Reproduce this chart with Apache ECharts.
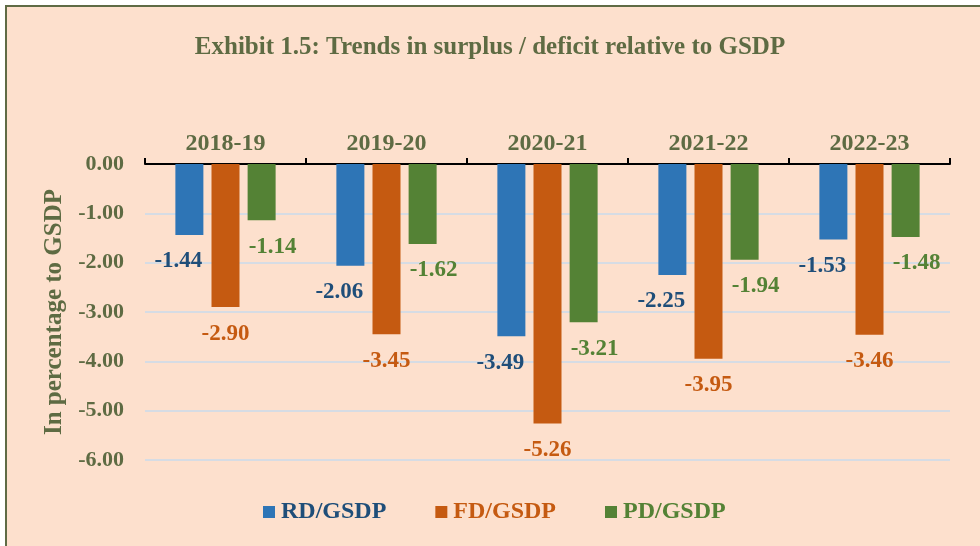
<!DOCTYPE html>
<html>
<head>
<meta charset="utf-8">
<script src="https://cdn.jsdelivr.net/npm/echarts@6/dist/echarts.min.js"></script>
<style>
html, body { margin: 0; padding: 0; background: #fff; overflow: hidden; }
#frame { position: absolute; left: 5px; top: 5px; width: 1000px; height: 600px;
  background: #FDE0CD; border-top: 2px solid #5F6B45; border-left: 2px solid #5F6B45; }
#main { position: absolute; left: 0; top: 0; width: 980px; height: 546px; }
</style>
</head>
<body>
<div id="frame"></div>
<div id="main"></div>
<script>
var years = ['2018-19', '2019-20', '2020-21', '2021-22', '2022-23'];
var rdGsdp = [-1.44, -2.06, -3.49, -2.25, -1.53];
var fdGsdp = [-2.90, -3.45, -5.26, -3.95, -3.46];
var pdGsdp = [-1.14, -1.62, -3.21, -1.94, -1.48];

var serif = '"Liberation Serif", "Times New Roman", serif';
var olive = '#5E6B43';

function barSeries(name, data, color, textColor, dx) {
  return {
    name: name,
    type: 'bar',
    data: data,
    barWidth: 28,
    barGap: '29%',
    itemStyle: { color: color },
    label: {
      show: true,
      position: 'bottom',
      distance: 15,
      offset: [dx, 0],
      color: textColor,
      fontFamily: serif,
      fontWeight: 'bold',
      fontSize: 23,
      formatter: function (p) { return p.value.toFixed(2); }
    }
  };
}

var myChart = echarts.init(document.getElementById('main'));
var option = {
  backgroundColor: 'transparent',
  animation: false,
  title: {
    text: 'Exhibit 1.5: Trends in surplus / deficit relative to GSDP',
    left: 'center',
    top: 30,
    textStyle: { color: olive, fontFamily: serif, fontWeight: 'bold', fontSize: 25 }
  },
  legend: {
    bottom: 17,
    left: 258,
    itemWidth: 12,
    itemHeight: 12,
    itemGap: 49,
    icon: 'rect',
    textStyle: { fontFamily: serif, fontWeight: 'bold', fontSize: 24, padding: [0, 0, 0, 1] },
    data: [
      { name: 'RD/GSDP', textStyle: { color: '#1F4E79' } },
      { name: 'FD/GSDP', textStyle: { color: '#C55A11' } },
      { name: 'PD/GSDP', textStyle: { color: '#548235' } }
    ]
  },
  grid: { left: 145, right: 30, top: 164, bottom: 86 },
  xAxis: {
    type: 'category',
    position: 'top',
    data: years,
    axisLine: { lineStyle: { color: '#000', width: 2 } },
    axisTick: { show: true, length: 6, lineStyle: { color: '#000', width: 2 } },
    axisLabel: { color: olive, fontFamily: serif, fontWeight: 'bold', fontSize: 24, margin: 8 }
  },
  yAxis: {
    type: 'value',
    min: -6,
    max: 0,
    interval: 1,
    name: 'In percentage to GSDP',
    nameLocation: 'middle',
    nameGap: 69,
    nameTextStyle: { color: olive, fontFamily: serif, fontWeight: 'bold', fontSize: 25 },
    axisLine: { show: false },
    axisTick: { show: false },
    splitLine: { lineStyle: { color: '#D6DCE4', width: 2 } },
    axisLabel: {
      color: olive, fontFamily: serif, fontWeight: 'bold', fontSize: 22, margin: 21,
      formatter: function (v) { return v.toFixed(2); }
    }
  },
  series: [
    barSeries('RD/GSDP', rdGsdp, '#2E75B6', '#1F4E79', -11),
    barSeries('FD/GSDP', fdGsdp, '#C55A11', '#C55A11', 0),
    barSeries('PD/GSDP', pdGsdp, '#548235', '#548235', 11)
  ]
};
myChart.setOption(option);
</script>
</body>
</html>
